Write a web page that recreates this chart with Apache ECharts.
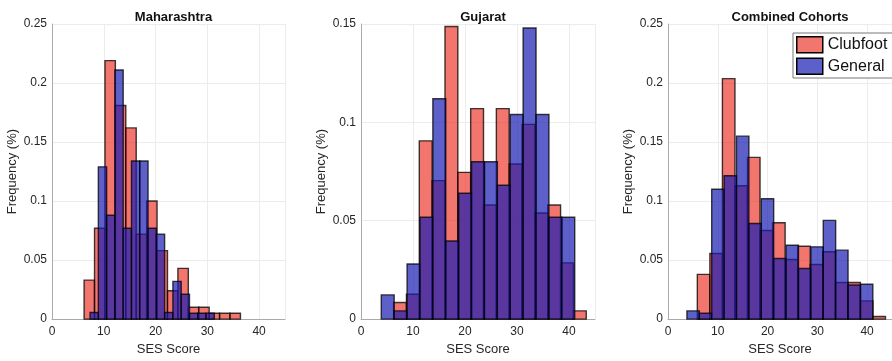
<!DOCTYPE html>
<html>
<head>
<meta charset="utf-8">
<script src="https://cdn.jsdelivr.net/npm/echarts@6/dist/echarts.min.js"></script>
<style>
  html, body { margin: 0; padding: 0; background: #fff; }
  #chart { width: 892px; height: 361px; }
</style>
</head>
<body>
<div id="chart"></div>
<script>
// panel titles
const panelTitles = ['Maharashtra', 'Gujarat', 'Combined Cohorts'];
const yMax = [0.25, 0.15, 0.25];
const xTicks = [0, 10, 20, 30, 40];

// histogram bins: first edge, bin width, probability per bin
const mhClubStart = 6.2, mhClubWidth = 2.013;
const mhClub = [0.033, 0.077, 0.219, 0.181, 0.162, 0.072, 0.100, 0.058, 0.024, 0.043, 0.010, 0.010, 0.005, 0.005, 0.005];
const mhGenStart = 7.35, mhGenWidth = 1.6;
const mhGen = [0.0056, 0.129, 0.088, 0.211, 0.077, 0.134, 0.134, 0.077, 0.072, 0.0056, 0.032, 0.021, 0.005, 0.005, 0.005];

const gjClubStart = 6.27, gjClubWidth = 2.47;
const gjClub = [0.0084, 0.0126, 0.0906, 0.0704, 0.1487, 0.0746, 0.107, 0.058, 0.107, 0.0788, 0.099, 0.0539, 0.058, 0.0286, 0.0042];
const gjGenStart = 3.9, gjGenWidth = 2.48;
const gjGen = [0.0123, 0.0042, 0.028, 0.0518, 0.112, 0.0397, 0.064, 0.080, 0.080, 0.068, 0.104, 0.148, 0.104, 0.0518, 0.0518];

const ccClubStart = 5.89, ccClubWidth = 2.52;
const ccClub = [0.0379, 0.0556, 0.2037, 0.113, 0.137, 0.075, 0.0816, 0.0505, 0.0617, 0.0463, 0.057, 0.031, 0.031, 0.0154, 0.0022];
const ccGenStart = 3.8, ccGenWidth = 2.49;
const ccGen = [0.007, 0.005, 0.110, 0.1215, 0.155, 0.081, 0.102, 0.0513, 0.0626, 0.0429, 0.0612, 0.0836, 0.0584, 0.0289, 0.0295];

const FONT = '"Liberation Sans", Arial, Helvetica, sans-serif';
const TXT = '#262626';
const RED = 'rgba(235,45,30,0.65)';
const BLUE = 'rgba(26,28,180,0.7)';
const EDGE = 'rgba(0,0,0,0.75)';

// [left edge, right edge, height]
function bins(start, width, vals) {
  return vals.map((v, i) => [start + i * width, start + (i + 1) * width, v]);
}

function histSeries(name, idx, data, fill) {
  return {
    name: name,
    type: 'custom',
    xAxisIndex: idx,
    yAxisIndex: idx,
    itemStyle: { color: fill },
    encode: { x: [0, 1], y: 2 },
    data: data,
    renderItem: function (params, api) {
      const p0 = api.coord([api.value(0), 0]);
      const p1 = api.coord([api.value(1), api.value(2)]);
      return {
        type: 'rect',
        shape: { x: p0[0], y: p1[1], width: p1[0] - p0[0], height: p0[1] - p1[1] },
        style: { fill: fill, stroke: EDGE, lineWidth: 1.4 }
      };
    }
  };
}

const grids = [
  { left: 52, top: 24, width: 233, height: 297 },
  { left: 361, top: 24, width: 234, height: 297 },
  { left: 668, top: 24, width: 234, height: 297 }
];

const chart = echarts.init(document.getElementById('chart'));

const option = {
  animation: false,
  backgroundColor: '#fff',
  textStyle: { fontFamily: FONT },
  title: grids.map((g, i) => ({
    text: panelTitles[i],
    left: g.left + g.width / 2,
    top: 6,
    textAlign: 'center',
    textStyle: { fontFamily: FONT, fontSize: 13, fontWeight: 'bold', color: '#111' }
  })),
  legend: {
    orient: 'vertical',
    left: 793,
    top: 33,
    padding: [3, 6, 3, 3],
    itemWidth: 26,
    itemHeight: 16,
    itemGap: 4,
    backgroundColor: '#fff',
    borderColor: '#777',
    borderWidth: 1,
    borderRadius: 0,
    textStyle: { fontFamily: FONT, fontSize: 16, color: '#111' },
    data: [
      { name: 'Clubfoot', icon: 'rect', itemStyle: { color: RED, borderColor: '#000', borderWidth: 1.5 } },
      { name: 'General', icon: 'rect', itemStyle: { color: BLUE, borderColor: '#000', borderWidth: 1.5 } }
    ]
  },
  grid: grids,
  xAxis: grids.map((g, i) => ({
    type: 'value',
    gridIndex: i,
    min: xTicks[0],
    max: 45,
    interval: 10,
    name: 'SES Score',
    nameLocation: 'middle',
    nameGap: 22,
    nameTextStyle: { fontFamily: FONT, fontSize: 13, color: TXT },
    axisLine: { show: true, lineStyle: { color: '#aaa', width: 1 } },
    axisTick: { show: false },
    axisLabel: { fontFamily: FONT, fontSize: 12, color: TXT, margin: 7, showMaxLabel: false },
    splitLine: { show: true, lineStyle: { color: '#ececec', width: 1 } }
  })),
  yAxis: grids.map((g, i) => ({
    type: 'value',
    gridIndex: i,
    min: 0,
    max: yMax[i],
    interval: 0.05,
    name: 'Frequency (%)',
    nameLocation: 'middle',
    nameGap: 33,
    nameTextStyle: { fontFamily: FONT, fontSize: 13, color: TXT },
    axisLine: { show: true, lineStyle: { color: '#aaa', width: 1 } },
    axisTick: { show: false },
    axisLabel: { fontFamily: FONT, fontSize: 12, color: TXT, margin: 5 },
    splitLine: { show: true, lineStyle: { color: '#ececec', width: 1 } }
  })),
  series: [
    histSeries('Clubfoot', 0, bins(mhClubStart, mhClubWidth, mhClub), RED),
    histSeries('General', 0, bins(mhGenStart, mhGenWidth, mhGen), BLUE),
    histSeries('Clubfoot', 1, bins(gjClubStart, gjClubWidth, gjClub), RED),
    histSeries('General', 1, bins(gjGenStart, gjGenWidth, gjGen), BLUE),
    histSeries('Clubfoot', 2, bins(ccClubStart, ccClubWidth, ccClub), RED),
    histSeries('General', 2, bins(ccGenStart, ccGenWidth, ccGen), BLUE)
  ]
};

chart.setOption(option);
</script>
</body>
</html>
